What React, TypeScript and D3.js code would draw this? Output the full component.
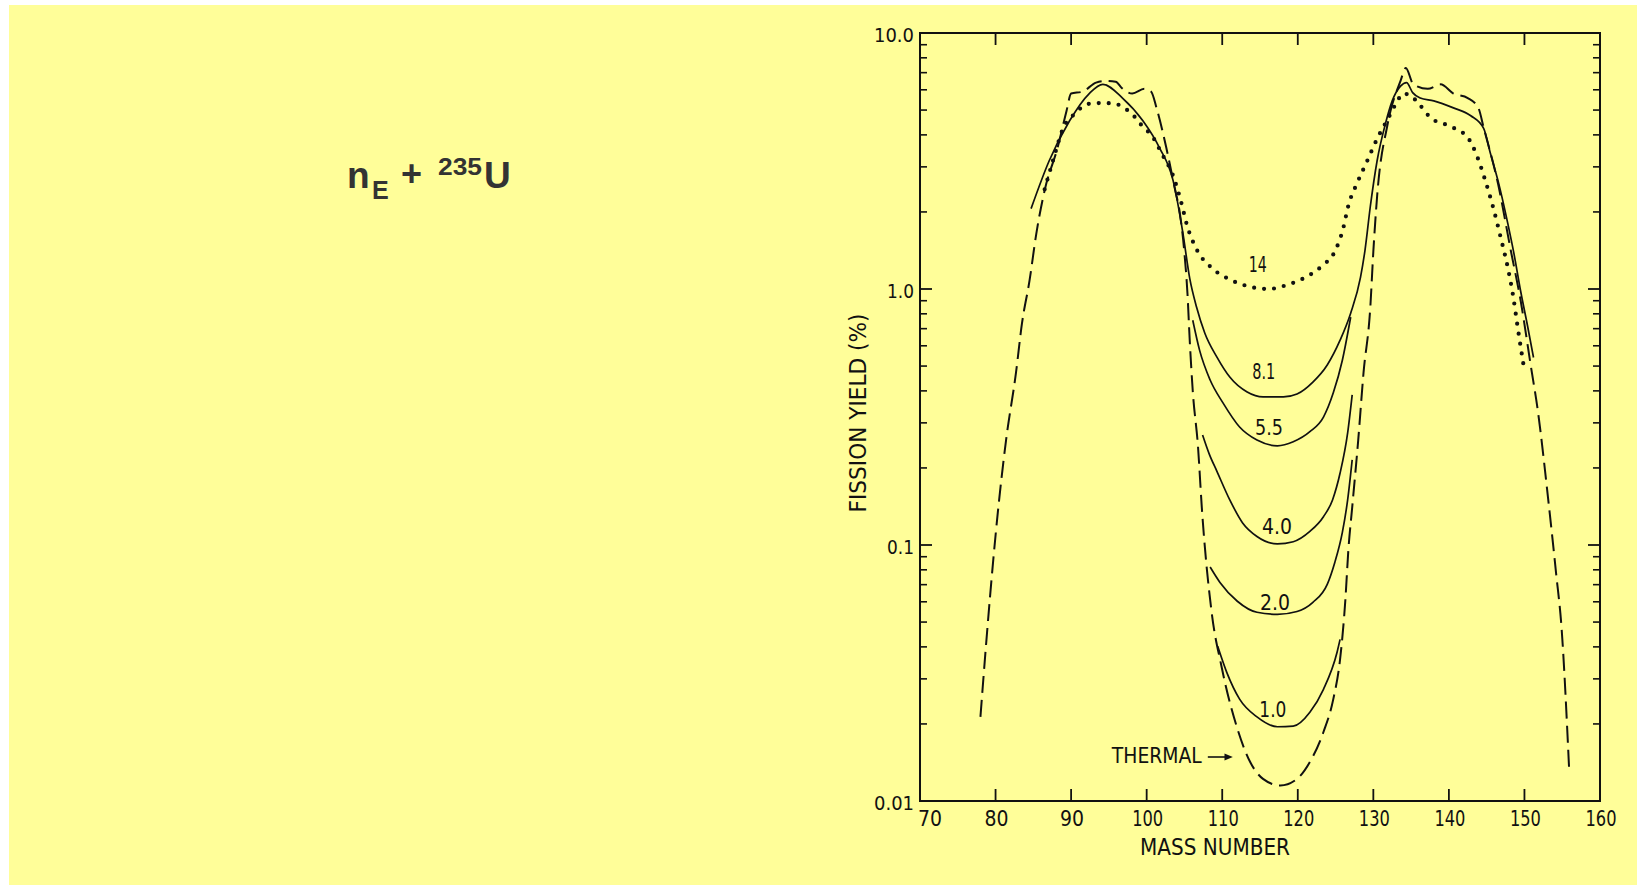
import React from "react";
import * as d3 from "d3";

const W = 1637;
const H = 885;

// Axis ticks
const xTickValues = [70, 80, 90, 100, 110, 120, 130, 140, 150, 160];
const xTickLabels = ["70", "80", "90", "100", "110", "120", "130", "140", "150", "160"];
const yDecadeValues = [0.01, 0.1, 1, 10];
const yDecadeLabels = ["0.01", "0.1", "1.0", "10.0"];

// Thermal neutrons (dashed)
const thermalMass = [78, 78.8, 79.7, 80.3, 81.4, 82.7, 83.5, 84.5, 85.4, 86.5, 88.2, 89.4, 90.0, 91.5, 93.3, 94.6, 95.9, 96.7, 98.1, 99.7, 100.6, 101.3, 102.6, 103.7, 104.4, 105.0, 105.4, 105.7, 106.1, 106.8, 107.3, 108.6, 109.9, 111.9, 113.7, 115.4, 117.7, 119.9, 121.6, 123.4, 124.7, 125.6, 126.3, 126.7, 127.2, 128.0, 128.7, 129.6, 130.0, 130.5, 131.9, 133.6, 134.3, 135.3, 137.2, 138.9, 140.6, 142.5, 143.9, 144.6, 146.5, 148.2, 149.5, 150.8, 151.8, 153.1, 154.2, 154.9, 155.9];
const thermalYield = [0.0213, 0.0428, 0.0877, 0.134, 0.258, 0.47, 0.735, 1.08, 1.65, 2.43, 3.56, 4.97, 5.8, 5.9, 6.4, 6.5, 6.45, 6.1, 5.8, 6.05, 5.9, 5.1, 3.56, 2.49, 1.97, 1.38, 0.96, 0.63, 0.40, 0.241, 0.14, 0.0546, 0.0336, 0.0196, 0.0142, 0.0122, 0.0115, 0.0122, 0.0142, 0.0186, 0.025, 0.0358, 0.0612, 0.096, 0.14, 0.257, 0.47, 0.85, 1.4, 2.3, 4.42, 6.5, 7.3, 6.3, 6.05, 6.3, 5.8, 5.57, 5.1, 4.27, 2.58, 1.41, 0.9, 0.51, 0.33, 0.155, 0.077, 0.048, 0.0136];

// 8.1 MeV (outer solid envelope)
const e81Mass = [84.7, 87.1, 89.8, 92.4, 94.2, 96.8, 99.5, 101.7, 103.5, 104.8, 105.7, 106.6, 107.7, 109.3, 111.0, 113.3, 115.4, 118.1, 119.9, 122.0, 123.9, 125.6, 127.0, 128.3, 128.9, 129.6, 130.5, 131.6, 132.5, 133.6, 134.4, 135.2, 136.2, 138.0, 140.6, 142.9, 144.6, 145.5, 146.5, 147.8, 148.6, 149.5, 150.4, 151.2];
const e81Yield = [2.06, 3.17, 4.54, 5.8, 6.3, 5.57, 4.54, 3.56, 2.65, 1.65, 1.1, 0.85, 0.672, 0.542, 0.453, 0.396, 0.379, 0.379, 0.389, 0.433, 0.505, 0.631, 0.804, 1.11, 1.42, 2.1, 3.17, 4.42, 5.43, 6.2, 6.4, 5.85, 5.57, 5.43, 5.1, 4.75, 4.24, 3.38, 2.65, 1.8, 1.38, 0.98, 0.72, 0.54];

// 5.5 MeV
const e55Mass = [106.1, 107.0, 108.4, 110.1, 112.3, 114.6, 117.3, 119.4, 121.6, 123.4, 124.7, 125.9, 127.0];
const e55Yield = [0.755, 0.577, 0.441, 0.359, 0.289, 0.257, 0.244, 0.253, 0.277, 0.316, 0.393, 0.527, 0.776];

// 4.0 MeV
const e40Mass = [107.4, 108.3, 109.3, 111.0, 112.7, 114.6, 117.3, 119.4, 121.6, 123.4, 124.6, 125.6, 126.6, 127.2];
const e40Yield = [0.269, 0.226, 0.194, 0.150, 0.122, 0.108, 0.101, 0.103, 0.113, 0.129, 0.150, 0.191, 0.274, 0.386];

// 2.0 MeV
const e20Mass = [108.4, 109.7, 112.0, 114.6, 117.3, 119.9, 122.0, 123.9, 124.9, 125.9, 126.6, 127.2];
const e20Yield = [0.082, 0.0714, 0.0603, 0.0546, 0.0536, 0.055, 0.0597, 0.0702, 0.0855, 0.112, 0.15, 0.215];

// 1.0 MeV
const e10Mass = [109.4, 110.6, 112.3, 114.6, 117.3, 119.4, 121.6, 123.4, 125.2, 125.6];
const e10Yield = [0.0402, 0.0318, 0.025, 0.0213, 0.0195, 0.0196, 0.0222, 0.0273, 0.0381, 0.0428];

// 14 MeV (dotted)
const e14Mass = [86.5, 87.5, 89.1, 90.2, 92.4, 94.2, 95.8, 97.2, 98.4, 99.5, 100.7, 102.0, 103.5, 104.5, 105.4, 106.6, 108.6, 111.0, 113.7, 116.1, 118.7, 121.0, 123.2, 125.0, 126.0, 126.7, 127.9, 129.2, 130.5, 132.0, 133.2, 133.9, 134.9, 136.0, 137.6, 140.0, 142.5, 143.8, 144.7, 145.9, 146.9, 147.8, 148.5, 149.1, 149.9];
const e14Yield = [2.45, 3.1, 4.34, 4.75, 5.29, 5.33, 5.29, 5.06, 4.71, 4.3, 3.97, 3.38, 2.77, 2.22, 1.75, 1.43, 1.21, 1.09, 1.02, 1.0, 1.04, 1.11, 1.23, 1.42, 1.72, 2.12, 2.61, 3.17, 3.86, 4.66, 5.43, 5.8, 5.7, 5.3, 4.66, 4.34, 3.9, 3.26, 2.72, 2.06, 1.57, 1.21, 0.94, 0.71, 0.5];

// Curve labels (energies in MeV) and where they sit, in data units
const curveLabels = ["14", "8.1", "5.5", "4.0", "2.0", "1.0"];
const curveLabelMass = [114.7, 115.5, 116.2, 117.25, 117.0, 116.7];
const curveLabelYield = [1.165, 0.445, 0.269, 0.1104, 0.0557, 0.0213];

const CHART_FONT = "'Liberation Sans Narrow', 'DejaVu Sans Condensed', 'Roboto Condensed', 'Arial Narrow', sans-serif";

export default function App() {
  const x = d3.scaleLinear().domain([70, 160]).range([920, 1600]);
  const y = d3.scaleLog().domain([0.01, 10]).range([801, 33]);
  const [x0, x1] = x.range();
  const [y0, y1] = y.range();

  const line = d3
    .line<[number, number]>()
    .x((d) => x(d[0]))
    .y((d) => y(d[1]))
    .curve(d3.curveMonotoneX);
  const zip = (a: number[], b: number[]) => a.map((v, i) => [v, b[i]] as [number, number]);

  const minorTicks: number[] = [];
  [0.01, 0.1, 1].forEach((d) => {
    for (let k = 2; k <= 9; k++) minorTicks.push(d * k);
  });

  const ink = "#111";
  const solidW = 1.7;

  const labelLens = [18, 23, 28, 30, 30, 27];

  return (
    <svg
      width={W}
      height={H}
      style={{ position: "absolute", left: 0, top: 0, display: "block" }}
    >
      <rect x={0} y={0} width={W} height={H} fill="#ffffff" />
      <rect x={9} y={5} width={W - 9} height={H - 5} fill="#FFFE99" />

      {/* Title */}
      <text fill="#333" fontFamily="'Liberation Sans', Arial, sans-serif" fontWeight="bold">
        <tspan x={347} y={188} fontSize={37}>n</tspan>
        <tspan x={372} y={199} fontSize={25}>E</tspan>
        <tspan x={401} y={186} fontSize={36}>+</tspan>
        <tspan x={438} y={175} fontSize={23} textLength={44} lengthAdjust="spacingAndGlyphs">235</tspan>
        <tspan x={484} y={188} fontSize={37}>U</tspan>
      </text>

      {/* Frame */}
      <rect x={x0} y={y1} width={x1 - x0} height={y0 - y1} fill="none" stroke={ink} strokeWidth={2} />

      {/* X ticks (top and bottom, inward) */}
      {xTickValues.slice(1, -1).map((v) => (
        <g key={"xt" + v}>
          <line x1={x(v)} x2={x(v)} y1={y0} y2={y0 - 12} stroke={ink} strokeWidth={1.8} />
          <line x1={x(v)} x2={x(v)} y1={y1} y2={y1 + 12} stroke={ink} strokeWidth={1.8} />
        </g>
      ))}

      {/* Y ticks (left and right, inward) */}
      {yDecadeValues.slice(1, -1).map((v) => (
        <g key={"yM" + v}>
          <line x1={x0} x2={x0 + 12} y1={y(v)} y2={y(v)} stroke={ink} strokeWidth={1.8} />
          <line x1={x1} x2={x1 - 12} y1={y(v)} y2={y(v)} stroke={ink} strokeWidth={1.8} />
        </g>
      ))}
      {minorTicks.map((v) => (
        <g key={"ym" + v}>
          <line x1={x0} x2={x0 + 7} y1={y(v)} y2={y(v)} stroke={ink} strokeWidth={1.6} />
          <line x1={x1} x2={x1 - 7} y1={y(v)} y2={y(v)} stroke={ink} strokeWidth={1.6} />
        </g>
      ))}

      {/* Tick labels */}
      <g fontFamily={CHART_FONT} fill={ink}>
        {yDecadeValues.map((v, i) => (
          <text
            key={"yl" + v}
            x={x0 - 6}
            y={y(v) + 9}
            fontSize={20}
            textAnchor="end"
            textLength={yDecadeLabels[i].length === 4 ? 40 : 27}
            lengthAdjust="spacingAndGlyphs"
          >
            {yDecadeLabels[i]}
          </text>
        ))}
        {xTickValues.map((v, i) => (
          <text
            key={"xl" + v}
            x={i === 0 ? x(v) - 2 : x(v) + 1}
            y={y0 + 25}
            fontSize={21}
            textAnchor={i === 0 ? "start" : "middle"}
            textLength={xTickLabels[i].length === 3 ? 31 : 24}
            lengthAdjust="spacingAndGlyphs"
          >
            {xTickLabels[i]}
          </text>
        ))}
        <text
          x={(x0 + x1) / 2 - 45}
          y={y0 + 54}
          fontSize={23}
          textAnchor="middle"
          textLength={150}
          lengthAdjust="spacingAndGlyphs"
        >
          MASS NUMBER
        </text>
        <text
          transform={`translate(866, ${(y0 + y1) / 2 - 4}) rotate(-90)`}
          fontSize={23}
          textAnchor="middle"
          textLength={199}
          lengthAdjust="spacingAndGlyphs"
        >
          FISSION YIELD (%)
        </text>
      </g>

      {/* Curves */}
      <path d={line(zip(thermalMass, thermalYield)) || ""} fill="none" stroke={ink} strokeWidth={2} strokeDasharray="17,7" />
      <path d={line(zip(e81Mass, e81Yield)) || ""} fill="none" stroke={ink} strokeWidth={solidW} />
      <path d={line(zip(e55Mass, e55Yield)) || ""} fill="none" stroke={ink} strokeWidth={solidW} />
      <path d={line(zip(e40Mass, e40Yield)) || ""} fill="none" stroke={ink} strokeWidth={solidW} />
      <path d={line(zip(e20Mass, e20Yield)) || ""} fill="none" stroke={ink} strokeWidth={solidW} />
      <path d={line(zip(e10Mass, e10Yield)) || ""} fill="none" stroke={ink} strokeWidth={solidW} />
      <path
        d={line(zip(e14Mass, e14Yield)) || ""}
        fill="none"
        stroke={ink}
        strokeWidth={4.2}
        strokeLinecap="round"
        strokeDasharray="0,10"
      />

      {/* Curve labels */}
      <g fontFamily={CHART_FONT} fill={ink}>
        {curveLabels.map((t, i) => (
          <text
            key={"cl" + t}
            x={x(curveLabelMass[i])}
            y={y(curveLabelYield[i])}
            fontSize={22}
            textAnchor="middle"
            textLength={labelLens[i]}
            lengthAdjust="spacingAndGlyphs"
          >
            {t}
          </text>
        ))}
        <text
          x={x(107.3)}
          y={y(0.01406)}
          fontSize={22}
          textAnchor="end"
          textLength={90}
          lengthAdjust="spacingAndGlyphs"
        >
          THERMAL
        </text>
      </g>
      {/* Thermal pointer */}
      <line x1={x(107.3) + 6} x2={x(110.9)} y1={757} y2={757} stroke={ink} strokeWidth={1.6} />
      <path
        d={`M${x(111.4)},757 L${x(110.3)},753.5 L${x(110.3)},760.5 Z`}
        fill={ink}
      />
    </svg>
  );
}
